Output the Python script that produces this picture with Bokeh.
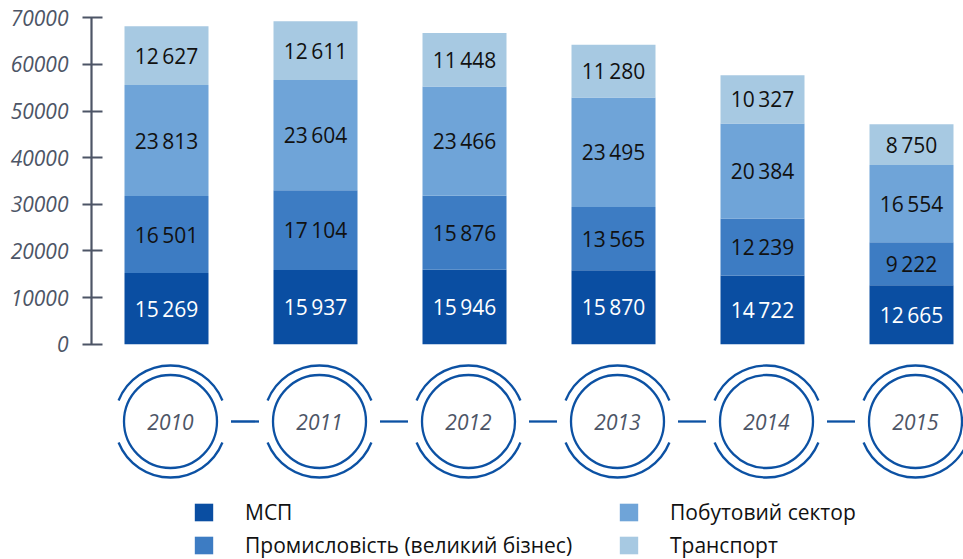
import numpy as np
from bokeh.plotting import figure
from bokeh.models import (ColumnDataSource, LinearAxis, FixedTicker, Legend,
                          LegendItem, Range1d)
from bokeh.core.properties import value
from bokeh.embed import file_html
from bokeh.resources import INLINE

# ---- data ----
years = [2010, 2011, 2012, 2013, 2014, 2015]
msp = [15269, 15937, 15946, 15870, 14722, 12665]
industry = [16501, 17104, 15876, 13565, 12239, 9222]
household = [23813, 23604, 23466, 23495, 20384, 16554]
transport = [12627, 12611, 11448, 11280, 10327, 8750]
series_keys = ["msp", "industry", "household", "transport"]
series_names = ["МСП", "Промисловість (великий бізнес)", "Побутовий сектор", "Транспорт"]
y_ticks = [0, 10000, 20000, 30000, 40000, 50000, 60000, 70000]

# ---- styles ----
colors = ["#0a4ea2", "#3d7cc3", "#6fa4d8", "#a7c9e2"]
label_colors = ["#ffffff", "#111111", "#111111", "#111111"]
ring_color = "#0c51a3"
axis_color = "#4d5566"
FONT = "Open Sans"

W, H = 963, 559
left = 91
frame_w = W - left
x_px = 149.0                      # pixels per year
x0 = years[0] - 75.0 / x_px
x1 = x0 + frame_w / x_px
zero_px = 343.7                   # pixel row of y=0 from top of frame
y_px = 326.4 / 70000.0            # pixels per unit
y_top = zero_px / y_px
y_bot = -(H - zero_px) / y_px

p = figure(width=W, height=H, output_backend="svg", toolbar_location=None,
           x_range=Range1d(x0, x1), y_range=Range1d(y_bot, y_top),
           x_axis_type=None, y_axis_type=None,
           min_border_left=left, min_border_right=0, min_border_top=0,
           min_border_bottom=0)
p.outline_line_color = None
p.background_fill_color = "white"
p.border_fill_color = "white"

yaxis = LinearAxis(ticker=FixedTicker(ticks=y_ticks), bounds=(0, 70000),
                   axis_line_color=axis_color, axis_line_width=2.2,
                   major_tick_line_color=axis_color, major_tick_line_width=2.2,
                   major_tick_in=11, major_tick_out=9,
                   minor_tick_in=0, minor_tick_out=0,
                   major_label_standoff=14,
                   major_label_text_font=FONT,
                   major_label_text_font_style="italic",
                   major_label_text_font_size="21px",
                   major_label_text_color=axis_color)
p.add_layout(yaxis, "left")

src = ColumnDataSource(dict(years=years, msp=msp, industry=industry,
                            household=household, transport=transport))
bar_w = 84.0 / x_px
renderers = p.vbar_stack(series_keys, x="years", width=bar_w, color=colors,
                         line_color=None, source=src)

# value labels
lx, ly, lt, lc = [], [], [], []
data = [msp, industry, household, transport]
bottom = [0] * len(years)
for s, vals in enumerate(data):
    for i, v in enumerate(vals):
        lx.append(years[i])
        ly.append(bottom[i] + v / 2.0)
        lt.append(f"{v:,}".replace(",", "\u2009"))
        lc.append(label_colors[s])
        bottom[i] += v
p.text(x=lx, y=ly, text=lt, text_color=lc, text_align="center",
       text_baseline="middle", text_font=value(FONT), text_font_size="21px")

# year rings
dx = 4.0 / x_px
cy = -(421 - zero_px) / y_px
cx = [y + dx for y in years]
cys = [cy] * len(years)
p.scatter(x=cx, y=cys, marker="circle", size=93, fill_color=None,
          line_color=ring_color, line_width=2.3)
p.arc(x=cx, y=cys, radius=56, radius_units="screen",
      start_angle=np.radians(22), end_angle=np.radians(158),
      line_color=ring_color, line_width=2.3)
p.arc(x=cx, y=cys, radius=56, radius_units="screen",
      start_angle=np.radians(202), end_angle=np.radians(338),
      line_color=ring_color, line_width=2.3)
half = 14.0 / x_px
mids = [years[i] + 0.5 + dx for i in range(len(years) - 1)]
p.segment(x0=[m - half for m in mids], y0=[cy] * len(mids),
          x1=[m + half for m in mids], y1=[cy] * len(mids),
          line_color=ring_color, line_width=2.3)
p.text(x=cx, y=cys, text=[str(y) for y in years], text_color=axis_color,
       text_align="center", text_baseline="middle", text_font=value(FONT),
       text_font_style="italic", text_font_size="21px")

# legends
def make_legend(idx, loc):
    items = [LegendItem(label=series_names[k], renderers=[renderers[k]]) for k in idx]
    return Legend(items=items, location=loc, orientation="vertical",
                  glyph_width=23, glyph_height=22, label_height=22,
                  label_standoff=30, spacing=5, padding=0, margin=0,
                  border_line_color=None, background_fill_alpha=0,
                  label_text_font=FONT, label_text_font_size="21px",
                  label_text_color="#111111")

p.add_layout(make_legend([0, 1], (101, 0)))
p.add_layout(make_legend([2, 3], (526, 0)))

open("out.html", "w").write(file_html(p, INLINE))
